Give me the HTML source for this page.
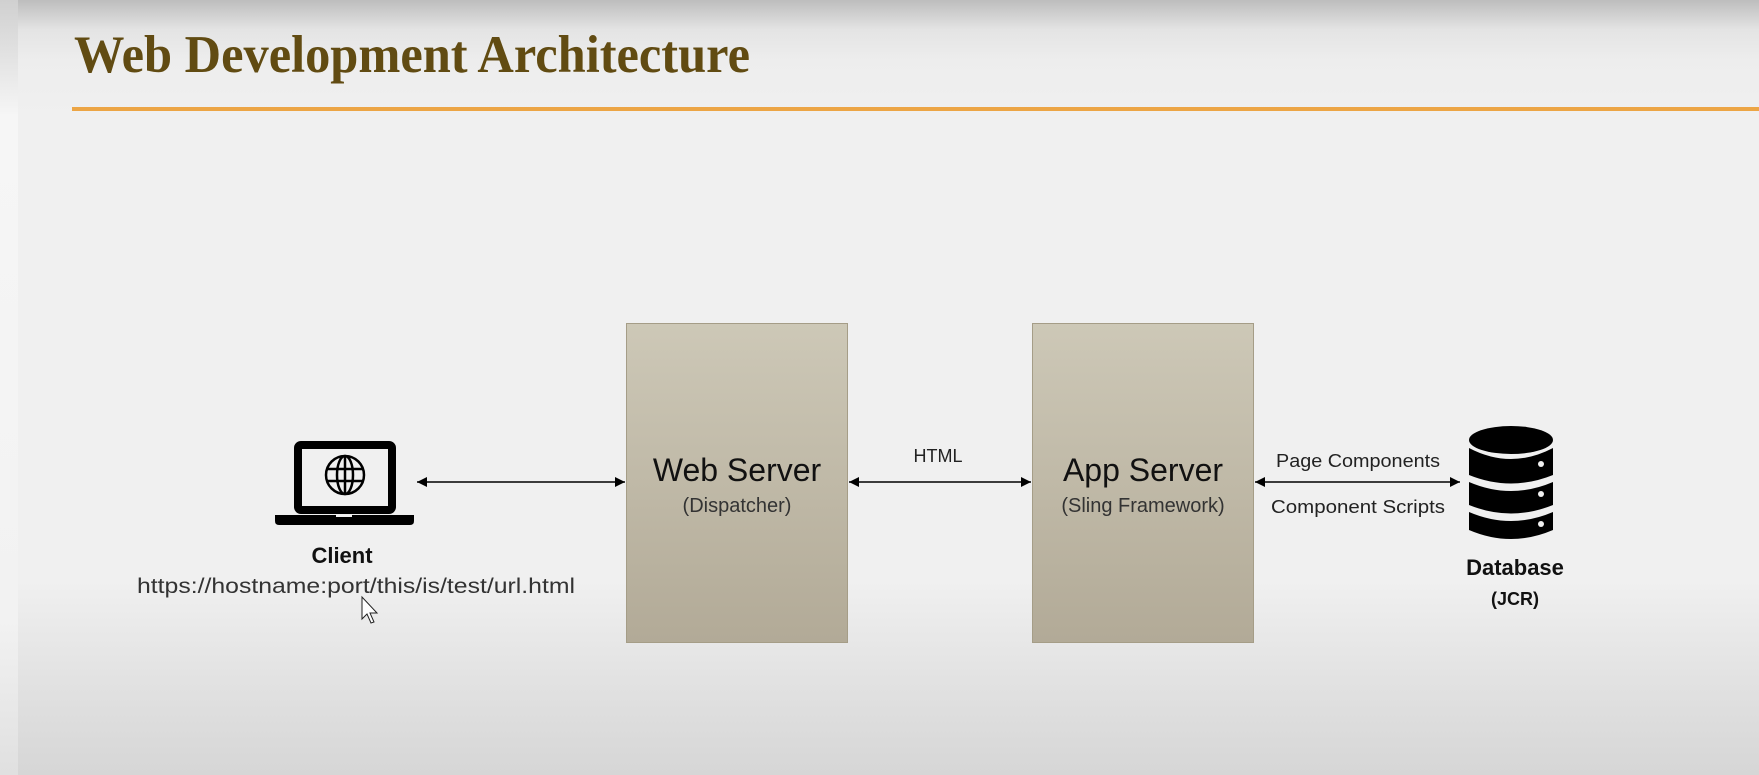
<!DOCTYPE html>
<html><head><meta charset="utf-8"><style>
html,body{margin:0;padding:0;width:1759px;height:775px;overflow:hidden}
body{background:linear-gradient(#bdbdbd 0px,#e4e4e4 30px,#ededed 60px,#f0f0f0 120px,#f0f0f0 580px,#e2e2e2 680px,#d6d6d6 775px)}
svg{position:absolute;left:0;top:0}
</style></head><body>
<svg width="1759" height="775" viewBox="0 0 1759 775" xmlns="http://www.w3.org/2000/svg">
<defs>
<linearGradient id="bx" x1="0" y1="0" x2="0" y2="1"><stop offset="0" stop-color="#cdc8b7"/><stop offset="1" stop-color="#b2aa97"/></linearGradient>
<linearGradient id="lft" x1="0" y1="0" x2="0" y2="1"><stop offset="0" stop-color="#d0d0d0"/><stop offset="0.15" stop-color="#f6f6f6"/><stop offset="0.8" stop-color="#f2f2f2"/><stop offset="1" stop-color="#e0e0e0"/></linearGradient>
<marker id="ah" viewBox="0 0 10 10" refX="10" refY="5" markerWidth="14" markerHeight="10" markerUnits="userSpaceOnUse" orient="auto-start-reverse"><path d="M0,0 L10,5 L0,10 z" fill="#000"/></marker>
</defs>
<rect x="0" y="0" width="18" height="775" fill="url(#lft)"/>
<text x="74" y="72" font-family="Liberation Serif, serif" font-weight="bold" font-size="53" fill="#614b12" textLength="676" lengthAdjust="spacingAndGlyphs">Web Development Architecture</text>
<rect x="72" y="107" width="1687" height="4" fill="#eca545"/>

<rect x="626.5" y="323.5" width="221" height="319" fill="url(#bx)" stroke="#a59d87"/>
<rect x="1032.5" y="323.5" width="221" height="319" fill="url(#bx)" stroke="#a59d87"/>
<g font-family="Liberation Sans, sans-serif" fill="#111" text-anchor="middle">
<text x="737" y="481" font-size="32">Web Server</text>
<text x="737" y="512" font-size="20" fill="#333">(Dispatcher)</text>
<text x="1143" y="481" font-size="32">App Server</text>
<text x="1143" y="512" font-size="20" fill="#333">(Sling Framework)</text>
<text x="938" y="462" font-size="18" fill="#222">HTML</text>
<text x="1358" y="467" font-size="18" fill="#222" textLength="164" lengthAdjust="spacingAndGlyphs">Page Components</text>
<text x="1358" y="513" font-size="18" fill="#222" textLength="174" lengthAdjust="spacingAndGlyphs">Component Scripts</text>
<text x="342" y="563" font-size="22" font-weight="bold">Client</text>
<text x="356" y="593" font-size="21" fill="#333" textLength="438" lengthAdjust="spacingAndGlyphs">https://hostname:port/this/is/test/url.html</text>
<text x="1515" y="575" font-size="22" font-weight="bold">Database</text>
<text x="1515" y="605" font-size="18" font-weight="bold">(JCR)</text>
</g>
<g stroke="#000" stroke-width="1.6" marker-start="url(#ah)" marker-end="url(#ah)">
<line x1="417" y1="482" x2="625" y2="482"/>
<line x1="849" y1="482" x2="1031" y2="482"/>
<line x1="1255" y1="482" x2="1460" y2="482"/>
</g>
<!-- laptop -->
<rect x="298" y="445" width="94" height="65" rx="3" fill="none" stroke="#000" stroke-width="8"/>
<path d="M275,515 H414 V521 Q414,525 410,525 H279 Q275,525 275,521 Z" fill="#000"/>
<rect x="336" y="514" width="16" height="3" fill="#f0f0f0"/>
<g fill="none" stroke="#000" stroke-width="2.5">
<circle cx="345" cy="475" r="19"/>
<ellipse cx="345" cy="475" rx="8" ry="19"/>
<line x1="345" y1="456" x2="345" y2="494"/>
<line x1="327" y1="469" x2="363" y2="469"/>
<line x1="327" y1="481" x2="363" y2="481"/>
</g>
<!-- database -->
<g fill="#000">
<ellipse cx="1511" cy="440" rx="42" ry="14"/>
<path d="M1469,448 Q1511,470 1553,448 V475 Q1511,492 1469,475 Z"/>
<path d="M1469,482 Q1511,500 1553,482 V505 Q1511,522 1469,505 Z"/>
<path d="M1469,512 Q1511,530 1553,512 V530 Q1511,548 1469,530 Z"/>
</g>
<g fill="#f0f0f0"><circle cx="1541" cy="464" r="3"/><circle cx="1541" cy="494" r="3"/><circle cx="1541" cy="524" r="3"/></g>
<!-- cursor -->
<path d="M362,597 L362,619 L367,614 L371,623 L374,622 L370,613 L377,613 Z" fill="#fff" stroke="#222" stroke-width="1"/>
</svg>
</body></html>
